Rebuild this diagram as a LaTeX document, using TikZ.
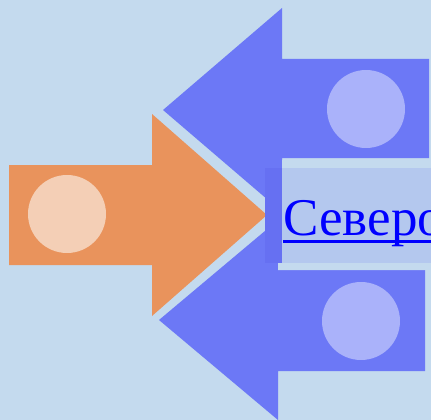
\documentclass[tikz,border=0pt]{standalone}
\usepackage{fontspec}
\setmainfont{Liberation Serif}
\definecolor{bgc}{RGB}{196,218,238}
\definecolor{bluearr}{RGB}{108,120,246}
\definecolor{bluedot}{RGB}{170,178,250}
\definecolor{orarr}{RGB}{233,147,92}
\definecolor{ordot}{RGB}{244,207,182}
\definecolor{overdark}{RGB}{102,112,242}
\definecolor{overlight}{RGB}{180,200,238}
\definecolor{linkblue}{RGB}{0,0,255}
\tikzset{
  arrowblue/.style={fill=bluearr},
  arroworange/.style={fill=orarr},
  dotblue/.style={fill=bluedot},
  dotorange/.style={fill=ordot},
}
\begin{document}
\begin{tikzpicture}[x=1pt,y=-1pt]
\useasboundingbox (0,0) rectangle (431,420);
\clip (0,0) rectangle (431,420);
\fill[bgc] (0,0) rectangle (431,420);
% top blue arrow
\fill[arrowblue] (163,110) -- (282,8) -- (282,59) -- (429,59) -- (429,158) -- (282,158) -- (282,212) -- cycle;
\fill[dotblue] (366,109) circle (39);
% bottom blue arrow
\fill[arrowblue] (159,320) -- (278,220) -- (278,270) -- (425,270) -- (425,371) -- (278,371) -- (278,420) -- cycle;
\fill[dotblue] (361,321) circle (39);
% orange arrow
\fill[arroworange] (9,165) -- (152,165) -- (152,114) -- (267,215) -- (152,316) -- (152,265) -- (9,265) -- cycle;
\fill[dotorange] (67,214) circle (39);
% label
\fill[bgc] (282,160) -- (431,160) -- (431,270) -- (278,270) -- (278,263) -- (282,263) -- cycle;
\fill[overdark] (265,168) rectangle (282,263);
\fill[overlight] (282,168) rectangle (431,263);
\node[anchor=base west, text=linkblue, font=\fontsize{53}{60}\selectfont, inner sep=0pt] (lbl) at (283,235) {Северо};
\draw[linkblue, line width=3pt] ([yshift=-6.5pt]lbl.base west) -- ([yshift=-6.5pt]lbl.base east);
\end{tikzpicture}
\end{document}
